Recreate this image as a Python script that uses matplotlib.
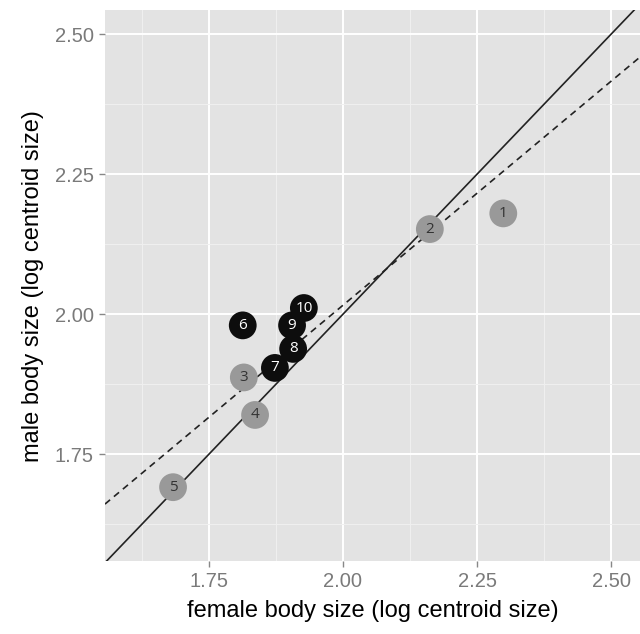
import numpy as np
import matplotlib
matplotlib.use("Agg")
import matplotlib.pyplot as plt
from matplotlib.ticker import MultipleLocator

# species values (log centroid size)
labels = ["1", "2", "3", "4", "5", "6", "7", "8", "9", "10"]
female = np.array([2.299, 2.162, 1.815, 1.836, 1.683, 1.813, 1.873, 1.907, 1.905, 1.927])
male = np.array([2.180, 2.152, 1.887, 1.820, 1.691, 1.980, 1.904, 1.938, 1.980, 2.011])
group = ["grey", "grey", "grey", "grey", "grey", "black", "black", "black", "black", "black"]

# dashed fitted line: intercept / slope
fit_a, fit_b = 0.416, 0.80

xticks = [1.75, 2.00, 2.25, 2.50]
yticks = [1.75, 2.00, 2.25, 2.50]

plt.rcParams['font.family'] = ['Liberation Sans', 'DejaVu Sans']

fig = plt.figure(figsize=(6.4, 6.34), dpi=100)
ax = fig.add_axes([0.164, 0.115, 0.836, 0.869])
ax.set_facecolor("#e3e3e3")
for s in ax.spines.values():
    s.set_visible(False)

xlim = (1.556, 2.554)
ylim = (1.559, 2.543)
ax.set_xlim(xlim)
ax.set_ylim(ylim)

ax.xaxis.set_minor_locator(MultipleLocator(0.125))
ax.yaxis.set_minor_locator(MultipleLocator(0.125))
ax.set_xticks(xticks)
ax.set_yticks(yticks)
ax.set_xticklabels(["%.2f" % t for t in xticks])
ax.set_yticklabels(["%.2f" % t for t in yticks])
ax.grid(which="major", color="white", linewidth=1.4)
ax.grid(which="minor", color="#f0f0f0", linewidth=0.7)
ax.set_axisbelow(True)
ax.tick_params(which="major", length=4, width=1, color="#888888",
               labelcolor="#7a7a7a", labelsize=14.5, pad=4)
ax.tick_params(which="minor", length=0)

# 1:1 line and fitted line
xx = np.array(xlim)
ax.plot(xx, xx, color="#222222", linewidth=1.2, zorder=2)
ax.plot(xx, fit_a + fit_b * xx, color="#222222", linewidth=1.2,
        linestyle=(0, (4, 3)), zorder=2)

for lab, x, y, g in zip(labels, female, male, group):
    if g == "grey":
        fc, tc = "#999999", "#333333"
    else:
        fc, tc = "#0d0d0d", "white"
    ax.scatter(x, y, s=400, color=fc, edgecolors="none", zorder=3)
    ax.text(x, y, lab, ha="center", va="center", color=tc, fontsize=11,
            family=["Open Sans", "DejaVu Sans"], zorder=4)

ax.set_xlabel("female body size (log centroid size)", fontsize=17, color="black", labelpad=6)
ax.set_ylabel("male body size (log centroid size)", fontsize=17, color="black", labelpad=8)

fig.savefig("out.png", dpi=100)
